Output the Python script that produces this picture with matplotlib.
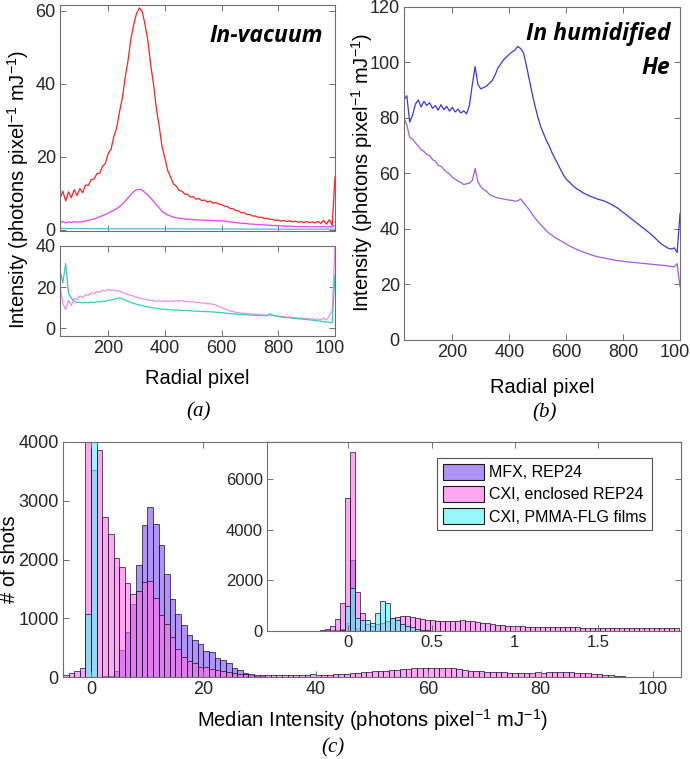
import numpy as np
import matplotlib
matplotlib.use('Agg')
import matplotlib.pyplot as plt
from matplotlib.patches import Patch
from matplotlib.transforms import Bbox, TransformedBbox

plt.rcParams['font.family'] = ['Liberation Sans', 'DejaVu Sans']
plt.rcParams['mathtext.fontset'] = 'custom'
plt.rcParams['mathtext.rm'] = 'Liberation Sans'
plt.rcParams['mathtext.it'] = 'Liberation Sans:italic'
plt.rcParams['mathtext.bf'] = 'Liberation Sans:bold'

# ---------------- data: radial profiles (read every 10 radial pixels) -------------
radial_px = np.arange(30, 1001, 10)

vac_red = [
    8.5, 10.6, 7.9, 10.4, 8.8, 11.0, 9.4, 11.3, 10.2, 12.3,
    12.2, 13.8, 13.9, 15.4, 15.5, 17.4, 18.2, 20.9, 22.1, 25.6,
    28.0, 32.4, 36.1, 41.9, 46.4, 52.3, 56.2, 59.3, 60.8, 59.8,
    56.2, 51.8, 45.2, 39.8, 33.2, 28.3, 22.8, 19.6, 16.3, 14.5,
    12.6, 12.0, 10.8, 10.6, 9.8, 9.7, 9.0, 9.1, 8.4, 8.6,
    8.0, 8.2, 7.6, 7.9, 7.3, 7.5, 7.1, 6.9, 6.5, 6.4,
    5.9, 5.8, 5.3, 5.2, 4.7, 4.7, 4.2, 4.2, 3.8, 3.8,
    3.4, 3.5, 3.1, 3.2, 2.9, 2.9, 2.6, 2.7, 2.4, 2.6,
    2.3, 2.5, 2.2, 2.4, 2.1, 2.3, 2.0, 2.3, 2.0, 2.2,
    1.9, 2.3, 1.8, 2.6, 1.6, 2.8, 1.2, 14.5]

vac_magenta = [
    2.0, 2.3, 1.9, 2.2, 2.0, 2.3, 2.1, 2.2, 2.3, 2.4,
    2.6, 2.8, 3.0, 3.3, 3.6, 3.9, 4.2, 4.6, 5.0, 5.4,
    5.8, 6.4, 7.1, 7.9, 8.8, 9.7, 10.5, 11.0, 11.1, 10.9,
    10.2, 9.5, 8.7, 7.8, 6.9, 6.0, 5.1, 4.5, 4.1, 3.8,
    3.5, 3.3, 3.2, 3.1, 3.0, 2.9, 2.9, 2.8, 2.8, 2.7,
    2.7, 2.7, 2.6, 2.6, 2.6, 2.5, 2.5, 2.5, 2.4, 2.3,
    2.2, 2.1, 2.0, 1.9, 1.8, 1.8, 1.7, 1.6, 1.6, 1.5,
    1.5, 1.4, 1.4, 1.3, 1.3, 1.2, 1.2, 1.1, 1.1, 1.1,
    1.0, 1.0, 1.0, 0.9, 0.9, 0.9, 0.9, 0.9, 0.8, 0.9,
    0.8, 0.9, 0.8, 0.9, 0.8, 0.9, 0.8, 1.2]

vac_cyan_px = [30, 200, 400, 600, 800, 1000]
vac_cyan = [0.4, 0.3, 0.3, 0.25, 0.2, 0.2]

low_pink = [
    20.5, 12.0, 9.0, 13.5, 11.0, 14.5, 13.8, 15.6, 14.9, 16.2,
    16.0, 17.2, 16.6, 17.8, 17.3, 18.5, 18.0, 18.9, 18.3, 18.6,
    17.9, 18.2, 17.3, 17.0, 16.2, 16.1, 15.4, 15.0, 14.6, 14.2,
    14.1, 13.6, 13.5, 13.4, 13.0, 13.2, 12.9, 13.3, 12.9, 13.2,
    13.0, 13.4, 13.1, 13.3, 12.9, 13.0, 12.7, 12.8, 12.4, 12.5,
    12.1, 12.2, 11.8, 11.9, 11.5, 11.2, 10.5, 9.9, 9.3, 8.9,
    8.3, 8.0, 7.6, 7.5, 7.2, 7.2, 7.0, 6.9, 6.7, 6.8,
    6.5, 6.5, 6.3, 6.2, 6.0, 6.2, 5.8, 5.9, 5.5, 5.6,
    5.2, 5.4, 5.0, 5.1, 4.8, 4.9, 4.6, 4.7, 4.4, 4.5,
    4.2, 4.4, 4.0, 4.8, 3.9, 6.0, 8.5, 40.0]

low_cyan = [
    28.3, 22.0, 31.5, 17.0, 14.5, 13.0, 12.4, 12.6, 12.2, 12.5,
    12.3, 12.6, 12.4, 12.8, 12.7, 13.1, 13.0, 13.5, 13.6, 14.0,
    14.3, 14.7, 14.2, 13.6, 13.0, 12.5, 12.0, 11.6, 11.2, 10.9,
    10.6, 10.3, 10.0, 9.8, 9.6, 9.4, 9.2, 9.1, 9.0, 8.9,
    8.8, 8.8, 8.7, 8.6, 8.6, 8.5, 8.4, 8.3, 8.2, 8.2,
    8.1, 8.0, 8.0, 7.9, 7.8, 7.7, 7.6, 7.5, 7.4, 7.2,
    7.0, 6.9, 6.8, 6.7, 6.6, 6.5, 6.4, 6.3, 6.3, 6.2,
    6.1, 6.1, 6.0, 6.0, 7.0, 6.3, 5.8, 5.6, 5.4, 5.2,
    5.1, 5.0, 4.8, 4.7, 4.5, 4.4, 4.3, 4.1, 4.0, 3.8,
    3.7, 3.5, 3.3, 3.1, 2.9, 2.8, 2.5, 26.0]

he_blue = [
    86.5, 88.0, 78.5, 81.0, 85.0, 86.5, 84.0, 86.0, 84.5, 85.5,
    83.5, 84.5, 82.8, 84.8, 83.0, 84.2, 82.5, 83.8, 82.2, 83.2,
    81.8, 82.6, 81.5, 84.5, 92.0, 98.5, 92.0, 90.5, 91.0, 91.5,
    92.5, 93.5, 95.5, 98.0, 99.5, 101.0, 102.0, 103.0, 103.8, 104.5,
    105.8, 105.0, 103.5, 99.0, 94.0, 89.0, 84.5, 80.5, 77.0, 74.5,
    72.0, 70.0, 67.5, 65.5, 63.5, 61.5, 59.5, 58.0, 57.0, 56.0,
    55.0, 54.3, 53.7, 53.0, 52.5, 52.0, 51.6, 51.2, 50.8, 50.5,
    50.2, 49.8, 49.3, 48.8, 48.2, 47.6, 46.8, 46.0, 45.2, 44.4,
    43.6, 42.8, 42.0, 41.2, 40.4, 39.6, 38.8, 37.9, 37.0, 36.0,
    35.0, 34.2, 33.6, 33.0, 32.8, 33.2, 31.5, 45.6]

he_purple = [
    80.0, 77.5, 73.0, 72.5, 71.0, 70.0, 68.5, 68.0, 66.8, 66.5,
    65.0, 64.5, 63.0, 62.6, 61.5, 60.5, 59.8, 58.6, 58.0, 57.2,
    56.8, 56.0, 56.3, 56.5, 57.5, 61.8, 57.0, 55.2, 54.2, 53.6,
    52.5, 52.0, 51.5, 51.2, 51.0, 50.8, 50.6, 50.4, 50.3, 50.0,
    50.2, 50.8, 49.5, 48.2, 47.0, 45.5, 44.0, 42.8, 41.6, 40.5,
    39.5, 38.4, 37.8, 37.0, 36.4, 35.8, 35.2, 34.6, 34.0, 33.5,
    33.0, 32.5, 32.1, 31.7, 31.3, 31.0, 30.6, 30.3, 30.0, 29.8,
    29.6, 29.4, 29.2, 29.0, 28.8, 28.6, 28.5, 28.4, 28.2, 28.1,
    28.0, 27.9, 27.8, 27.7, 27.6, 27.5, 27.4, 27.3, 27.2, 27.1,
    27.0, 26.9, 26.8, 26.6, 26.5, 26.4, 27.5, 19.2]

# ---------------- data: histograms (bin counts) -------------
main_bin_width = 1.0
pink_main_start = -5
pink_main = [
    40, 70, 100, 160, 6500, 3520, 3860, 2720, 2435, 2030,
    1880, 1605, 1420, 1465, 1615, 1630, 1350, 1060, 900, 685,
    470, 345, 275, 230, 175, 175, 130, 120, 107, 90,
    70, 55, 50, 45, 40, 40, 35, 30, 35, 30,
    40, 35, 30, 40, 45, 35, 30, 40, 45, 50,
    55, 60, 70, 80, 90, 100, 105, 110, 120, 125,
    130, 140, 150, 155, 160, 160, 155, 155, 150, 145,
    135, 120, 110, 100, 95, 90, 85, 80, 80, 75,
    70, 70, 75, 70, 80, 75, 85, 80, 90, 85,
    80, 75, 70, 60, 55, 50, 40, 30, 20, 10]
purple_main_start = 2
purple_main = [10, 20, 100, 460, 770, 1250, 1910, 2590, 2890, 2600,
               2255, 1760, 1335, 1080, 890, 710, 630, 555, 440, 430,
               315, 290, 245, 147, 120, 60, 35, 20, 10]
cyan_main_start = -1
cyan_main = [1080, 9000]

inset_bin_width = 0.03
pink_in_start = -0.47
pink_in = [
    0, 0, 5, 5, 5, 10, 10, 10, 15, 15,
    30, 80, 185, 490, 1110, 5240, 7050, 1520, 690, 290,
    180, 290, 330, 380, 530, 555, 580, 580, 555, 530,
    460, 420, 420, 410, 400, 380, 400, 410, 420, 400,
    380, 360, 330, 300, 280, 250, 230, 210, 200, 190,
    180, 170, 165, 160, 160, 155, 150, 150, 145, 145,
    140, 140, 135, 135, 130, 130, 130, 125, 125, 125,
    120, 120, 120, 115, 115, 115, 110, 110, 110, 105,
    105, 105]
cyan_in_start = -0.05
cyan_in = [50, 990, 1680, 520, 450, 450, 330, 690, 1190, 1110,
           530, 450, 265, 200, 160, 90, 40, 20, 10]
purple_in_start = -0.29
purple_in = [10, 10, 10, 15, 15, 20, 20, 30, 60, 300, 2800, 100, 30]

legend_labels = ['MFX, REP24', 'CXI, enclosed REP24', 'CXI, PMMA-FLG films']

# ---------------- layout helpers -------------
W, H = 690, 759
fig = plt.figure(figsize=(W / 100, H / 100), dpi=100)


def add_ax(l, t, r, b):
    return fig.add_axes([l / W, 1 - b / H, (r - l) / W, (b - t) / H])


def style(ax, size=13):
    for s in ax.spines.values():
        s.set_color('#6e6e6e')
        s.set_linewidth(0.8)
    ax.tick_params(direction='in', top=True, right=True, length=4, width=0.7,
                   color='#6e6e6e', labelsize=size, labelcolor='#262626', pad=3)


def ftext(x, y, s, **kw):
    return fig.text(x / W, 1 - y / H, s, **kw)


ylab = 'Intensity (photons pixel$^{-1}$ mJ$^{-1}$)'
bi = dict(family=['Open Sans', 'DejaVu Sans'], weight='bold', style='italic',
          fontsize=16.5, color='black')
xtk = [200, 400, 600, 800, 1000]
xtl = ['200', '400', '600', '800', '1000']

# ---------------- panel (a) top -------------
a1 = add_ax(60, 5, 335, 231)
a1.plot(radial_px, vac_red, color='#ff1f1f', lw=0.9)
a1.plot(radial_px, vac_magenta, color='#f03cf0', lw=0.9)
a1.plot(vac_cyan_px, vac_cyan, color='#4fb8d8', lw=0.9)
a1.set_xlim(30, 1000)
a1.set_ylim(-0.3, 61.6)
a1.set_yticks([0, 20, 40, 60])
a1.set_xticks(xtk)
a1.set_xticklabels([])
style(a1)
ftext(323, 36, 'In-vacuum', ha='right', va='center', **bi)

# ---------------- panel (a) bottom -------------
a2 = add_ax(60, 246, 335, 336)
a2.plot(radial_px, low_pink, color='#ee8ef0', lw=0.9)
a2.plot(radial_px, low_cyan, color='#3cc8c0', lw=0.9)
a2.set_xlim(30, 1000)
a2.set_ylim(-3.9, 40)
a2.set_yticks([0, 20, 40])
a2.set_xticks(xtk)
a2.set_xticklabels(xtl)
style(a2)
clip = TransformedBbox(Bbox([[0, 0], [345 / W, 1]]), fig.transFigure)
last = a2.xaxis.get_major_ticks()[-1]
last.label1.set_clip_box(clip)
last.label1.set_clip_on(True)

ftext(18, 189, ylab, rotation=90, ha='center', va='center', fontsize=14.5)
ftext(197, 378, 'Radial pixel', ha='center', va='center', fontsize=14.5)
ftext(199, 412, '(a)', ha='center', va='center', fontsize=15,
      family='Liberation Serif', style='italic')

# ---------------- panel (b) -------------
b = add_ax(404, 7, 680, 340)
b.plot(radial_px, he_blue, color='#3a36e8', lw=0.9)
b.plot(radial_px, he_purple, color='#a05af0', lw=0.9)
b.set_xlim(30, 1000)
b.set_ylim(0, 120)
b.set_yticks(range(0, 121, 20))
b.set_xticks(xtk)
b.set_xticklabels(xtl)
style(b)
ftext(670, 34, 'In humidified', ha='right', va='center', **bi)
ftext(670, 68, 'He', ha='right', va='center', **bi)
ftext(362, 172, ylab, rotation=90, ha='center', va='center', fontsize=14.5)
ftext(542, 387, 'Radial pixel', ha='center', va='center', fontsize=14.5)
ftext(545, 413, '(b)', ha='center', va='center', fontsize=15,
      family='Liberation Serif', style='italic')

# ---------------- panel (c) -------------
c_purple = (0.48, 0.30, 0.94, 0.6)
c_pink = (1.0, 0.43, 0.91, 0.6)
c_cyan = (0.31, 0.96, 0.96, 0.6)
edge = (0.05, 0.02, 0.15, 0.8)


def bars(ax, start, width, counts, color):
    left = start + width * np.arange(len(counts))
    ax.bar(left, counts, width=width, align='edge', color=color,
           edgecolor=edge, linewidth=0.6)


c = add_ax(63, 442, 681, 677)
bars(c, purple_main_start, main_bin_width, purple_main, c_purple)
bars(c, pink_main_start, main_bin_width, pink_main, c_pink)
bars(c, cyan_main_start, main_bin_width, cyan_main, c_cyan)
c.set_xlim(-5, 105)
c.set_ylim(0, 4000)
c.set_xticks([0, 20, 40, 60, 80, 100])
c.set_yticks([0, 1000, 2000, 3000, 4000])
style(c)
ftext(10, 559, '# of shots', rotation=90, ha='center', va='center', fontsize=14.5)
ftext(372, 720, 'Median Intensity (photons pixel$^{-1}$ mJ$^{-1}$)',
      ha='center', va='center', fontsize=14.5)
ftext(333, 748, '(c)', ha='center', va='center', fontsize=15,
      family='Liberation Serif', style='italic')

ins = add_ax(267, 442, 681, 631)
ins.set_facecolor('white')
bars(ins, purple_in_start, inset_bin_width, purple_in, c_purple)
bars(ins, pink_in_start, inset_bin_width, pink_in, c_pink)
bars(ins, cyan_in_start, inset_bin_width, cyan_in, c_cyan)
ins.set_xlim(-0.49, 2.0)
ins.set_ylim(0, 7450)
ins.set_xticks([0, 0.5, 1, 1.5])
ins.set_xticklabels(['0', '0.5', '1', '1.5'])
ins.set_yticks([0, 2000, 4000, 6000])
style(ins, size=12)

handles = [Patch(facecolor=col, edgecolor=(0.1, 0.1, 0.1), linewidth=0.8)
           for col in (c_purple, c_pink, c_cyan)]
leg = ins.legend(handles, legend_labels, loc='upper right',
                 bbox_to_anchor=(652 / W, 1 - 458 / H),
                 bbox_transform=fig.transFigure, borderaxespad=0,
                 fontsize=11.5, handlelength=2.6, handleheight=1.2,
                 handletextpad=0.3, labelspacing=0.35, borderpad=0.35,
                 fancybox=False, framealpha=1)
leg.get_frame().set_edgecolor('#555555')
leg.get_frame().set_linewidth(0.8)

fig.savefig('out.png', dpi=100)
